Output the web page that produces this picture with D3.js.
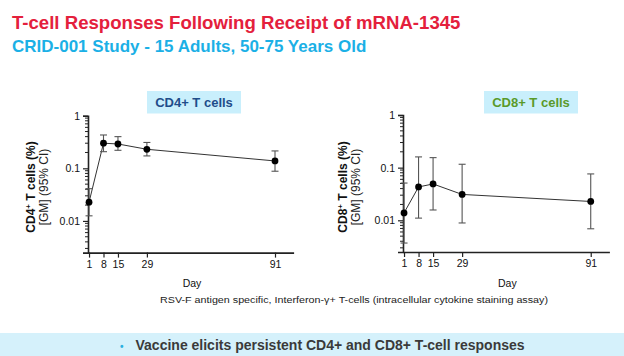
<!DOCTYPE html>
<html><head><meta charset="utf-8">
<script src="https://cdn.jsdelivr.net/npm/d3@7"></script>
<style>body{margin:0;background:#fff}svg{display:block}text{font-family:"Liberation Sans",Arial,sans-serif}</style>
</head><body>
<svg id="c" width="624" height="356"></svg>
<script>
const days = [1, 8, 15, 29, 91];
const xTickLabels = ["1", "8", "15", "29", "91"];
const yTickValues = [0.01, 0.1, 1];
const yTickLabels = ["0.01", "0.1", "1"];
const cd4GM = [0.0227, 0.30, 0.29, 0.23, 0.138];
const cd4Lo = [0.0125, 0.207, 0.22, 0.172, 0.088];
const cd4Hi = [0.041, 0.43, 0.40, 0.31, 0.214];
const cd8GM = [0.0138, 0.043, 0.049, 0.031, 0.0228];
const cd8Lo = [0.0037, 0.011, 0.0157, 0.0089, 0.0069];
const cd8Hi = [0.051, 0.16, 0.155, 0.116, 0.076];

const svg = d3.select("#c");

svg.append("text").attr("x", 12).attr("y", 29).attr("fill", "#e4203c")
  .attr("font-size", 18.6).attr("font-weight", "bold").text("T-cell Responses Following Receipt of mRNA-1345");
svg.append("text").attr("x", 12).attr("y", 52).attr("fill", "#1bb0e6")
  .attr("font-size", 17).attr("font-weight", "bold").text("CRID-001 Study - 15 Adults, 50-75 Years Old");

function panel(o) {
  const x = d3.scaleLinear().domain([0.5, 100]).range([o.x0, o.x1]);
  const y = d3.scaleLog().domain([0.0025, 1]).range([o.y0, o.y1]);
  const g = svg.append("g");
  const tb = g.append("g");
  tb.append("rect").attr("x", o.bx).attr("y", 91).attr("width", 94).attr("height", 22.5).attr("fill", "#c9effc");
  tb.append("text").attr("x", o.bx + 47).attr("y", 107).attr("text-anchor", "middle")
    .attr("font-size", 13).attr("font-weight", "bold").attr("fill", o.tc).text(o.title);
  const ya = g.append("g").attr("transform", `translate(${o.x0},0)`);
  ya.call(d3.axisLeft(y).tickValues(yTickValues).tickFormat((d, i) => yTickLabels[i]).tickSize(5).tickPadding(3));
  ya.selectAll(".tick text").attr("font-size", 10.5).attr("font-family", "Liberation Sans, Arial, sans-serif").attr("fill", "#111");
  ya.selectAll(".tick line").attr("stroke", "#222").attr("stroke-width", 1.2);
  ya.select(".domain").attr("stroke", "#222").attr("stroke-width", 1.6);
  const minors = y.ticks().filter(v => !yTickValues.some(t => Math.abs(t - v) < 1e-9));
  ya.selectAll(".mn").data(minors).join("line").attr("x1", 0).attr("x2", -3)
    .attr("y1", d => y(d)).attr("y2", d => y(d)).attr("stroke", "#222").attr("stroke-width", 1);
  const xa = g.append("g").attr("transform", `translate(0,${o.y0})`);
  xa.call(d3.axisBottom(x).tickValues(days).tickFormat((d, i) => xTickLabels[i]).tickSize(5).tickPadding(3).tickSizeOuter(0));
  xa.selectAll(".tick text").attr("font-size", 10.5).attr("font-family", "Liberation Sans, Arial, sans-serif").attr("fill", "#111");
  xa.selectAll(".tick line").attr("stroke", "#222").attr("stroke-width", 1.2);
  xa.select(".domain").attr("stroke", "#222").attr("stroke-width", 1.6);
  g.append("text").attr("x", (x(1) + x(91)) / 2 + 10).attr("y", 287).attr("text-anchor", "middle")
    .attr("font-size", 10.5).attr("fill", "#111").text("Day");
  const yl = g.append("text").attr("transform", `translate(${o.lx},187) rotate(-90)`).attr("text-anchor", "middle")
    .attr("font-size", 12).attr("fill", "#111");
  yl.append("tspan").attr("font-weight", "bold").text(o.ylab);
  yl.append("tspan").attr("font-weight", "bold").attr("font-size", 8).attr("dy", -4).text("+");
  yl.append("tspan").attr("font-weight", "bold").attr("dy", 4).text(" T cells (%)");
  g.append("text").attr("transform", `translate(${o.lx + 12.5},187) rotate(-90)`).attr("text-anchor", "middle")
    .attr("font-size", 12).attr("fill", "#222").text("[GM] (95% CI)");
  const line = d3.line().x((d, i) => x(days[i])).y(d => y(d));
  g.append("path").attr("d", line(o.gm)).attr("fill", "none").attr("stroke", "#333").attr("stroke-width", 1);
  const eb = g.selectAll(".eb").data(days).join("g").attr("stroke", "#555").attr("stroke-width", 1.1);
  eb.append("line").attr("x1", d => x(d)).attr("x2", d => x(d)).attr("y1", (d, i) => y(o.lo[i])).attr("y2", (d, i) => y(o.hi[i]));
  eb.append("line").attr("x1", d => x(d) - 3.5).attr("x2", d => x(d) + 3.5).attr("y1", (d, i) => y(o.lo[i])).attr("y2", (d, i) => y(o.lo[i]));
  eb.append("line").attr("x1", d => x(d) - 3.5).attr("x2", d => x(d) + 3.5).attr("y1", (d, i) => y(o.hi[i])).attr("y2", (d, i) => y(o.hi[i]));
  g.selectAll(".pt").data(o.gm).join("circle").attr("cx", (d, i) => x(days[i])).attr("cy", d => y(d))
    .attr("r", 3.4).attr("fill", "#000");
}

panel({x0: 88, x1: 293.6, y0: 252.6, y1: 115.7, bx: 147, title: "CD4+ T cells", tc: "#1f4d8a", ylab: "CD4", lx: 35,
  gm: cd4GM, lo: cd4Lo, hi: cd4Hi});
panel({x0: 403, x1: 609.4, y0: 252, y1: 115, bx: 484, title: "CD8+ T cells", tc: "#5a9a2a", ylab: "CD8", lx: 347,
  gm: cd8GM, lo: cd8Lo, hi: cd8Hi});

svg.append("text").attr("x", 354).attr("y", 303).attr("text-anchor", "middle").attr("font-size", 9.6).attr("fill", "#222")
  .attr("textLength", 388).attr("lengthAdjust", "spacingAndGlyphs")
  .text("RSV-F antigen specific, Interferon-γ+ T-cells (intracellular cytokine staining assay)");

svg.append("rect").attr("x", 0).attr("y", 333).attr("width", 624).attr("height", 23).attr("fill", "#d5f1fb");
const bt = svg.append("text").attr("x", 120).attr("y", 350).attr("font-size", 14).attr("font-weight", "bold").attr("fill", "#3a3a3a");
bt.append("tspan").attr("fill", "#2ab0e0").attr("font-size", 10).text("•");
bt.append("tspan").attr("dx", 12).text("Vaccine elicits persistent CD4+ and CD8+ T-cell responses");
</script>
</body></html>
